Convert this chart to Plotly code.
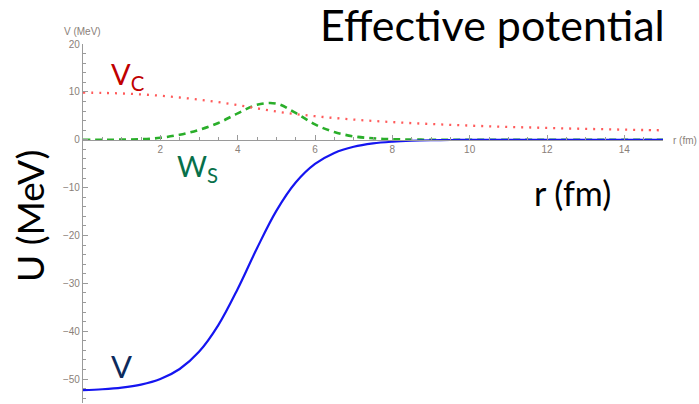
import plotly.graph_objects as go

# Radial grid (fm)
r = [0.0, 0.5, 1.0, 1.5, 2.0, 2.5, 3.0, 3.5, 4.0, 4.5, 5.0, 5.5, 6.0, 6.5, 7.0, 7.5,
     8.0, 8.5, 9.0, 9.5, 10.0, 10.5, 11.0, 11.5, 12.0, 12.5, 13.0, 13.5, 14.0, 14.5, 15.0]

# Real nuclear potential V (MeV)
v_real = [-52.31, -52.13, -51.80, -51.17, -50.00, -47.90, -44.31, -38.73, -31.18, -22.67,
          -14.86, -8.94, -5.06, -2.76, -1.47, -0.77, -0.41, -0.21, -0.11, -0.06,
          -0.03, -0.02, -0.01, 0.0, 0.0, 0.0, 0.0, 0.0, 0.0, 0.0, 0.0]

# Coulomb potential Vc (MeV)
v_coul = [9.83, 9.79, 9.67, 9.47, 9.19, 8.82, 8.38, 7.85, 7.24, 6.56,
          5.90, 5.36, 4.92, 4.54, 4.21, 3.93, 3.69, 3.47, 3.28, 3.11,
          2.95, 2.81, 2.68, 2.57, 2.46, 2.36, 2.27, 2.19, 2.11, 2.03, 1.97]

# Surface imaginary potential Ws (MeV)
w_surf = [0.0, 0.0, 0.02, 0.1, 0.4, 1.05, 2.05, 3.5, 5.5, 7.3,
          7.55, 5.6, 3.2, 1.6, 0.7, 0.3, 0.1, 0.04, 0.0, 0.0,
          0.0, 0.0, 0.0, 0.0, 0.0, 0.0, 0.0, 0.0, 0.0, 0.0, 0.0]

x_ticks = [2, 4, 6, 8, 10, 12, 14]
y_ticks = [20, 10, 0, -10, -20, -30, -40, -50]

W, H = 699, 404
ML, MR, MT, MB = 83, 36, 44, 1
X_RANGE = [0, 15]
Y_RANGE = [-55, 20]


def px(xp, yp):
    """Pixel position on the page -> paper coordinates."""
    return (xp - ML) / (W - ML - MR), (H - MB - yp) / (H - MT - MB)


fig = go.Figure()
fig.add_trace(go.Scatter(x=r, y=w_surf, mode="lines", line_shape="spline",
                         line=dict(color="#2aae2a", width=2.6, dash="7px,5px")))
fig.add_trace(go.Scatter(x=r, y=v_coul, mode="lines", line_shape="spline",
                         line=dict(color="#ff5a5a", width=2.3, dash="2px,6px")))
fig.add_trace(go.Scatter(x=r, y=v_real, mode="lines", line_shape="spline",
                         line=dict(color="#1515f0", width=2.2)))

axis_col = "#9a9a9a"
small_fam = "Liberation Sans, Arial, sans-serif"
tick_font = dict(family=small_fam, size=10, color="#8a8079")
zero_pos = (0 - Y_RANGE[0]) / (Y_RANGE[1] - Y_RANGE[0])

fig.update_xaxes(range=X_RANGE, anchor="free", position=zero_pos,
                 showline=True, linecolor=axis_col, linewidth=1.2,
                 showgrid=False, zeroline=False,
                 tickmode="array", tickvals=x_ticks, ticktext=[str(t) for t in x_ticks],
                 ticks="inside", ticklen=5, tickcolor=axis_col, tickwidth=1,
                 minor=dict(ticks="inside", dtick=0.5, tick0=0, ticklen=3,
                            tickcolor=axis_col, tickwidth=1, showgrid=False),
                 tickfont=tick_font)
fig.update_yaxes(range=Y_RANGE,
                 showline=True, linecolor=axis_col, linewidth=1.2,
                 showgrid=False, zeroline=False,
                 tickmode="array", tickvals=y_ticks,
                 ticks="inside", ticklen=5, tickcolor=axis_col, tickwidth=1,
                 minor=dict(ticks="inside", dtick=2, tick0=0, ticklen=3,
                            tickcolor=axis_col, tickwidth=1, showgrid=False),
                 tickfont=tick_font)

big = "Lato, Calibri, sans-serif"
notes = [
    # text, pixel x, pixel y, xanchor, font size, colour, family
    ("V (MeV)", 82, 31, "center", 10, "#8a8079", small_fam),
    ("r (fm)", 671, 140, "left", 10, "#8a8079", small_fam),
    ("Effective potential", 667, 25, "right", 43, "#000000", big),
    ("r (fm)", 572, 192, "center", 34, "#000000", big),
    ("V<sub>C</sub>", 128, 75, "center", 29, "#c00000", big),
    ("W<sub>S</sub>", 197, 167, "center", 29, "#07704a", big),
    ("V", 121, 366, "center", 31, "#0d2a5c", big),
]
annotations = []
for text, xp, yp, xa, size, col, fam in notes:
    ax, ay = px(xp, yp)
    annotations.append(dict(text=text, x=ax, y=ay, xref="paper", yref="paper",
                            xanchor=xa, yanchor="middle", showarrow=False,
                            font=dict(family=fam, size=size, color=col)))
ux, uy = px(29, 216)
annotations.append(dict(text="U (MeV)", x=ux, y=uy, xref="paper", yref="paper",
                        xanchor="center", yanchor="middle", showarrow=False,
                        textangle=-90, font=dict(family=big, size=37, color="#000000")))

fig.update_layout(width=W, height=H, margin=dict(l=ML, r=MR, t=MT, b=MB),
                  plot_bgcolor="white", paper_bgcolor="white",
                  showlegend=False, annotations=annotations)

fig.write_html("out.html")
